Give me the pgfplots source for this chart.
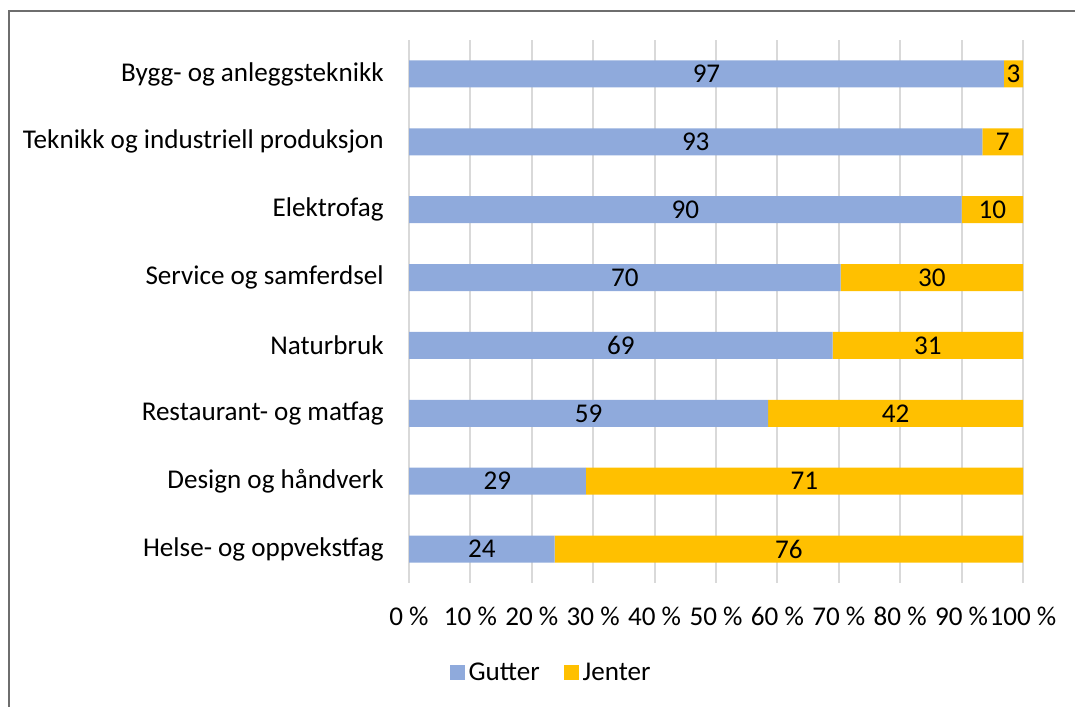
\documentclass[border=0pt]{standalone}
\usepackage{fontspec}
\setmainfont{Carlito}
\usepackage{pgfplots}
\pgfplotsset{compat=1.18}
\usepackage{pgfplotstable}

\definecolor{gutter}{HTML}{8FAADC}
\definecolor{jenter}{HTML}{FFC000}
\definecolor{gridc}{HTML}{D9D9D9}
\definecolor{framec}{HTML}{6E6E6E}

% share of boys (g) and girls (j), top row first
\pgfplotstableread{
idx g j
0 96.9 3.1
1 93.4 6.6
2 90.0 10.0
3 70.3 29.7
4 69.0 31.0
5 58.5 41.5
6 28.8 71.2
7 23.7 76.3
}\shares

\begin{document}
\begin{tikzpicture}[font=\fontsize{13.6}{16}\selectfont]
\useasboundingbox (0,0) rectangle (537.5bp,353.5bp);
\draw[framec, line width=0.6bp] (4.5bp,0) -- (4.5bp,348bp) -- (537.5bp,348bp);
\begin{axis}[
  at={(204.5bp,62bp)}, anchor=south west,
  width=307bp, height=271.5bp, scale only axis,
  xbar stacked,
  bar width=13.5bp,
  xmin=0, xmax=100,
  ymin=-0.5, ymax=7.5,
  y dir=reverse,
  axis line style={draw=none},
  tick style={draw=none},
  xmajorgrids,
  grid style={gridc, line width=1bp},
  xtick={0,10,...,100},
  xticklabels={0 \%,10 \%,20 \%,30 \%,40 \%,50 \%,60 \%,70 \%,80 \%,90 \%,100 \%},
  xticklabel style={inner sep=0pt, anchor=north, yshift=-12bp},
  ytick={0,...,7},
  yticklabels={Bygg- og anleggsteknikk, Teknikk og industriell produksjon, Elektrofag,
    Service og samferdsel, Naturbruk, Restaurant- og matfag, Design og håndverk,
    Helse- og oppvekstfag},
  yticklabel style={inner sep=0pt, anchor=east, xshift=-12.5bp},
  nodes near coords={\pgfmathprintnumber[fixed,precision=0,assume math mode=true]{\pgfplotspointmeta}},
  every node near coord/.append style={anchor=center, text=black},
  legend style={at={(0.233,-0.166)}, anchor=center, draw=none, fill=none,
    legend columns=2,
    /tikz/every even column/.append style={column sep=10bp}},
  legend image code/.code={\fill[#1] (0bp,-3.6bp) rectangle (7.5bp,3.9bp);},
]
\addplot[fill=gutter, draw=none, point meta=explicit]
  table[x=g, y=idx, meta=g] {\shares};
\addplot[fill=jenter, draw=none, point meta=explicit]
  table[x=j, y=idx, meta=j] {\shares};
\legend{Gutter, Jenter}
\end{axis}
\end{tikzpicture}
\end{document}
